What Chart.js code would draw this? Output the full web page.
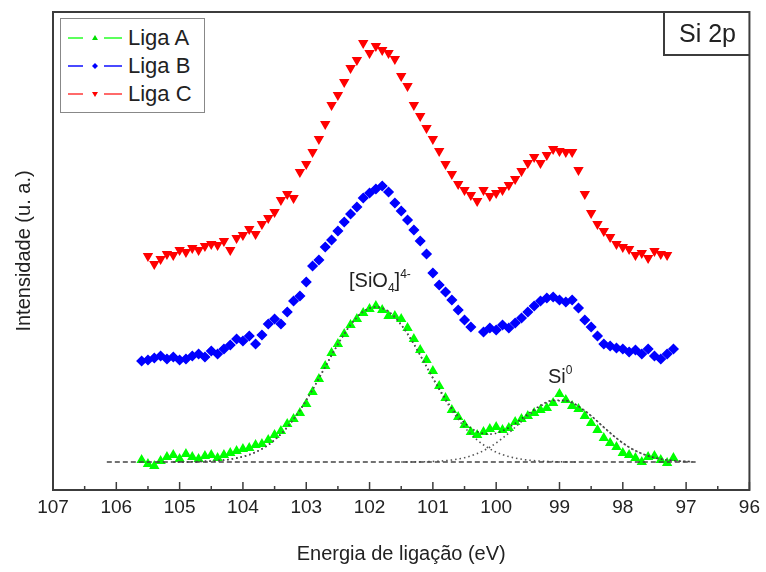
<!DOCTYPE html>
<html>
<head>
<meta charset="utf-8">
<script src="https://cdn.jsdelivr.net/npm/chart.js@4.4.0/dist/chart.umd.min.js"></script>
<style>
  body { margin: 0; background: #fff; }
  #wrap { position: relative; width: 766px; height: 572px; font-family: "Liberation Sans", Arial, sans-serif; color: #222; }
  .legend { position: absolute; left: 60px; top: 18px; width: 143px; height: 88px; padding-top: 5px; border: 1px solid #888; background: #fff; }
  .legend .row { display: flex; align-items: center; height: 28px; font-size: 22px; }
  .legend svg { margin-left: 7px; margin-right: 6px; }
  .tag { position: absolute; left: 663px; top: 12px; width: 87px; height: 44px; box-sizing: border-box; border-left: 2px solid #3c3c3c; border-bottom: 2px solid #3c3c3c; font-size: 25px; line-height: 42px; text-align: center; }
  .note { position: absolute; font-size: 20px; line-height: 1.1; white-space: nowrap; }
  .note .sb { font-size: 12px; vertical-align: -5px; }
  .note .sp { font-size: 12px; vertical-align: 9px; }
</style>
</head>
<body>
<div id="wrap">
  <canvas id="xps" width="766" height="572"></canvas>
  <div class="legend">
    <div class="row"><svg width="54" height="12"><line x1="0" y1="6" x2="15" y2="6" stroke="#5cff5c" stroke-width="2"/><polygon points="27,3 30,8 24,8" fill="#00e000"/><line x1="36" y1="6" x2="54" y2="6" stroke="#5cff5c" stroke-width="2"/></svg>Liga A</div>
    <div class="row"><svg width="54" height="12"><line x1="0" y1="6" x2="15" y2="6" stroke="#4a4aff" stroke-width="2"/><polygon points="27,3 30,6 27,9 24,6" fill="#0000ff"/><line x1="36" y1="6" x2="54" y2="6" stroke="#4a4aff" stroke-width="2"/></svg>Liga B</div>
    <div class="row"><svg width="54" height="12"><line x1="0" y1="6" x2="15" y2="6" stroke="#ff6a6a" stroke-width="2"/><polygon points="24,4 30,4 27,9" fill="#ff0000"/><line x1="36" y1="6" x2="54" y2="6" stroke="#ff6a6a" stroke-width="2"/></svg>Liga C</div>
  </div>
  <div class="tag">Si 2p</div>
  <div class="note" style="left:349px; top:268px;">[SiO<span class="sb">4</span>]<span class="sp">4-</span></div>
  <div class="note" style="left:548px; top:364px;">Si<span class="sp">0</span></div>
</div>
<script>
// binding energy (eV) of the measured points
const energies = [
  105.6, 105.5, 105.4, 105.3, 105.2, 105.1, 105.0, 104.9, 104.8, 104.7,
  104.6, 104.5, 104.4, 104.3, 104.2, 104.1, 104.0, 103.9, 103.8, 103.7,
  103.6, 103.5, 103.4, 103.3, 103.2, 103.1, 103.0, 102.9, 102.8, 102.7,
  102.6, 102.5, 102.4, 102.3, 102.2, 102.1, 102.0, 101.9, 101.8, 101.7,
  101.6, 101.5, 101.4, 101.3, 101.2, 101.1, 101.0, 100.9, 100.8, 100.7,
  100.6, 100.5, 100.4, 100.3, 100.2, 100.1, 100.0, 99.9, 99.8, 99.7,
  99.6, 99.5, 99.4, 99.3, 99.2, 99.1, 99.0, 98.9, 98.8, 98.7,
  98.6, 98.5, 98.4, 98.3, 98.2, 98.1, 98.0, 97.9, 97.8, 97.7,
  97.6, 97.5, 97.4, 97.3, 97.2
];

// intensities (arbitrary units, curves stacked with an offset)
const ligaA = [
  30, 26, 24, 29, 33, 35, 31, 36, 33, 31,
  34, 35, 32, 35, 37, 39, 41, 42, 45, 46,
  50, 55, 59, 66, 71, 77, 86, 98, 111, 124,
  137, 146, 156, 165, 171, 177, 181, 184, 180, 174,
  174, 171, 162, 151, 140, 130, 119, 104, 92, 80,
  73, 65, 58, 55, 58, 61, 63, 60, 62, 68,
  71, 74, 77, 80, 82, 87, 96, 90, 84, 81,
  74, 67, 60, 52, 47, 43, 37, 35, 32, 28,
  33, 34, 30, 27, 32
];
const ligaB = [
  129, 130, 132, 134, 131, 133, 130, 131, 134, 136,
  133, 139, 136, 141, 145, 151, 149, 154, 146, 155,
  166, 171, 166, 178, 189, 194, 208, 224, 230, 243,
  250, 259, 268, 276, 283, 292, 297, 301, 304, 298,
  287, 279, 270, 260, 249, 236, 217, 205, 198, 190,
  180, 170, 163, null, 158, 162, 160, 165, 162, 167,
  172, 178, 184, 189, 192, 193, 190, 188, 190, 182,
  170, 163, 154, 146, 144, 142, 141, 138, 140, 136,
  141, 134, 131, 136, 141
];
const ligaC = [
  null, 234, 226, 231, 236, 235, 240, 238, 242, 240,
  244, 246, 245, 249, 240, 252, 255, 261, 256, 266,
  272, 278, 290, 296, 292, 318, 326, 338, 351, 366,
  385, 395, 408, 422, 430, 447, 437, 444, 440, 437,
  431, 414, 404, 385, 374, 362, 351, 339, 326, 316,
  306, 300, 295, 289, 300, 294, 297, 300, 305, 311,
  319, 327, 333, 327, 335, 341, 339, 338, 338, 320,
  296, 277, 266, 259, 253, 246, 243, 241, 235, 237,
  232, 239, 236, 235, null
];

// peak fit of Liga A
const fitE = [
  106.1, 105.9, 105.7, 105.5, 105.3, 105.1, 104.9, 104.7, 104.5, 104.3,
  104.1, 103.9, 103.7, 103.5, 103.3, 103.1, 102.9, 102.7, 102.5, 102.3,
  102.1, 101.9, 101.7, 101.5, 101.3, 101.1, 100.9, 100.7, 100.5, 100.3,
  100.1, 99.9, 99.7, 99.5, 99.3, 99.1, 98.9, 98.7, 98.5, 98.3,
  98.1, 97.9, 97.7, 97.5, 97.3, 97.1, 96.9
];
const fitSiO4 = [
  null, null, null, null, null, 28, 28.1, 28.4, 28.9, 29.9,
  31.9, 35.3, 41.1, 50.0, 62.8, 79.7, 100.4, 123.2, 145.8, 165.2,
  178.4, 183, 178.4, 165.2, 145.8, 123.2, 100.4, 79.7, 62.8, 50.0,
  41.1, 35.3, 31.9, 29.9, 28.9, 28.4, 28.1, 28, null, null,
  null, null, null, null, null, null, null
];
const fitSi0 = [
  null, null, null, null, null, null, null, null, null, null,
  null, null, null, null, null, null, null, null, null, null,
  null, null, null, 28, 28.1, 28.3, 28.9, 30.0, 32.3, 36.4,
  42.8, 51.8, 62.7, 74.1, 83.7, 89.3, 89.3, 83.7, 74.1, 62.7,
  51.8, 42.8, 36.4, 32.3, 30.0, 28.9, 28.3
];
const fitSum = [
  null, null, null, null, null, 28, 28.1, 28.4, 28.9, 29.9,
  31.9, 35.3, 41.1, 50.0, 62.8, 79.7, 100.4, 123.2, 145.8, 165.2,
  178.4, 183, 178.4, 165.2, 145.9, 123.5, 101.3, 81.7, 67.1, 58.4,
  55.9, 59.1, 66.6, 76.0, 84.6, 89.7, 89.4, 83.7, 74.1, 62.7,
  51.8, 42.8, 36.4, 32.3, 30.0, 28.9, 28.3
];
const baseE = [106.15, 96.85];
const baseY = [28, 28];

const xTicks = [107, 106, 105, 104, 103, 102, 101, 100, 99, 98, 97, 96];

const pts = (xs, ys) => xs.map((x, i) => ({ x, y: ys[i] }));
const font = "'Liberation Sans', Arial, sans-serif";

// box round the plot and the small inward ticks of the energy axis
const frameTicks = {
  id: 'frameTicks',
  afterDatasetsDraw(chart) {
    const { ctx, chartArea: a, scales: { x } } = chart;
    ctx.save();
    ctx.strokeStyle = '#3c3c3c';
    ctx.lineWidth = 2;
    ctx.strokeRect(a.left, a.top, a.right - a.left, a.bottom - a.top);
    ctx.lineWidth = 1.5;
    for (let v = 96; v <= 107; v += 0.5) {
      const px = x.getPixelForValue(v);
      const len = xTicks.includes(v) ? 8 : 4;
      ctx.beginPath();
      ctx.moveTo(px, a.bottom);
      ctx.lineTo(px, a.bottom - len);
      ctx.stroke();
    }
    ctx.restore();
  }
};

const fitStyle = {
  showLine: true, pointRadius: 0, borderWidth: 1.6, borderColor: '#333',
  borderDash: [1.5, 3], cubicInterpolationMode: 'monotone', fill: false, order: 0
};

new Chart(document.getElementById('xps'), {
  type: 'scatter',
  data: {
    datasets: [
      { label: 'baseline', data: pts(baseE, baseY), showLine: true, pointRadius: 0,
        borderColor: '#444', borderWidth: 1.3, borderDash: [5, 3], order: 0 },
      { label: 'SiO4', data: pts(fitE, fitSiO4), ...fitStyle, borderColor: '#555' },
      { label: 'Si0', data: pts(fitE, fitSi0), ...fitStyle, borderColor: '#555' },
      { label: 'soma', data: pts(fitE, fitSum), ...fitStyle },
      { label: 'Liga A', data: pts(energies, ligaA), pointStyle: 'triangle', pointRadius: 4.5,
        backgroundColor: '#00ff00', borderColor: '#00ff00', borderWidth: 1.5, order: 1 },
      { label: 'Liga B', data: pts(energies, ligaB), pointStyle: 'rectRot', pointRadius: 4.5,
        backgroundColor: '#0000ff', borderColor: '#0000ff', borderWidth: 1.5, order: 1 },
      { label: 'Liga C', data: pts(energies, ligaC), pointStyle: 'triangle', rotation: 180, pointRadius: 4.5,
        backgroundColor: '#ff0000', borderColor: '#ff0000', borderWidth: 1.5, order: 1 }
    ]
  },
  options: {
    responsive: false,
    animation: false,
    layout: { padding: { left: 0, right: 16, top: 12, bottom: 0 } },
    plugins: {
      legend: { display: false },
      tooltip: { enabled: false }
    },
    scales: {
      x: {
        type: 'linear',
        reverse: true,
        min: 96,
        max: 107,
        afterFit: s => { s.height = 82; },
        afterBuildTicks: s => { s.ticks = xTicks.map(v => ({ value: v })); },
        grid: { display: false, drawTicks: false },
        border: { display: false },
        ticks: { autoSkip: false, maxRotation: 0, padding: 6, color: '#222', font: { family: font, size: 19 } },
        title: { display: true, text: 'Energia de ligação (eV)', color: '#222',
          font: { family: font, size: 20 }, padding: { top: 0, bottom: 6 } }
      },
      y: {
        min: 0,
        max: 478,
        afterFit: s => { s.width = 53; },
        grid: { display: false, drawTicks: false },
        border: { display: false },
        ticks: { display: false },
        title: { display: true, text: 'Intensidade (u. a.)', color: '#222',
          font: { family: font, size: 20 }, padding: { top: 12, bottom: 0 } }
      }
    }
  },
  plugins: [frameTicks]
});
</script>
</body>
</html>
